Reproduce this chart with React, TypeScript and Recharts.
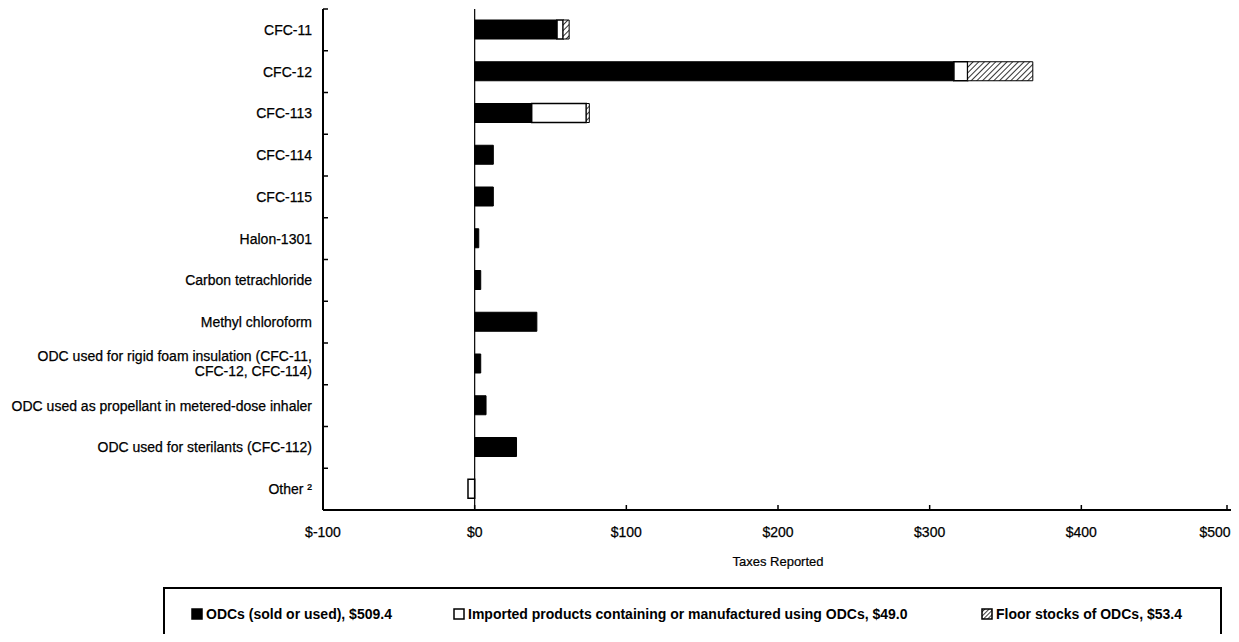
import React from 'react';
import {
  BarChart,
  Bar,
  XAxis,
  YAxis,
  Legend,
  ReferenceLine,
} from 'recharts';

// values in $ millions
const categories = [
  'CFC-11',
  'CFC-12',
  'CFC-113',
  'CFC-114',
  'CFC-115',
  'Halon-1301',
  'Carbon tetrachloride',
  'Methyl chloroform',
  'ODC used for rigid foam insulation (CFC-11,|CFC-12, CFC-114)',
  'ODC used as propellant in metered-dose inhaler',
  'ODC used for sterilants (CFC-112)',
  'Other ²',
];
const odcSold = [54.3, 316, 37.6, 12.3, 12.3, 2.7, 4, 41, 4, 7.5, 27.6, 0];
const importedProducts = [4, 9, 36, 0, 0, 0, 0, 0, 0, 0, 0, -4.4];
const floorStocks = [4, 43, 2, 0, 0, 0, 0, 0, 0, 0, 0, 0];

const xTicks = [-100, 0, 100, 200, 300, 400, 500];

const legendItems = [
  { label: 'ODCs (sold or used), $509.4', kind: 'solid' },
  { label: 'Imported products containing or manufactured using ODCs, $49.0', kind: 'white' },
  { label: 'Floor stocks of ODCs, $53.4', kind: 'hatch' },
];

const FONT = '"Liberation Sans", Arial, sans-serif';
const CHART_W = 1231;
const X_MARGIN = 17;
const Y_MARGIN = 11;

const data = categories.map((name, i) => ({
  name,
  odc: odcSold[i],
  imported: importedProducts[i],
  floor: floorStocks[i],
}));

const money = (v: number) => (v < 0 ? `$-${Math.abs(v)}` : `$${v}`);

function CategoryTick(props: any) {
  const { x, y, payload } = props;
  const lines = String(payload.value).split('|');
  const lh = 15;
  const start = -((lines.length - 1) * lh) / 2;
  const half = payload.offset || 20.9;
  const axisX = x + Y_MARGIN;
  return (
    <g>
      {/* mark at the upper edge of the band, pointing into the plot */}
      <line x1={axisX} x2={axisX + 5} y1={y - half} y2={y - half} stroke="#000" strokeWidth={1.5} />
      <text
        x={x}
        y={y}
        textAnchor="end"
        fontSize={14}
        fontFamily={FONT}
        fill="#000"
        stroke="#000"
        strokeWidth={0.25}
      >
        {lines.map((l, k) => (
          <tspan key={k} x={x} dy={k === 0 ? start + 5 : lh}>
            {l}
          </tspan>
        ))}
      </text>
    </g>
  );
}

function MoneyTick(props: any) {
  const { x, y, payload } = props;
  const axisY = y - X_MARGIN;
  // keep the last label on the page, as in the print
  const cx = Math.min(x, CHART_W - 24);
  return (
    <g>
      <line x1={x} x2={x} y1={axisY} y2={axisY - 5} stroke="#000" strokeWidth={1.5} />
      <text
        x={cx}
        y={y}
        dy="0.71em"
        textAnchor="middle"
        fontSize={14}
        fontFamily={FONT}
        fill="#000"
        stroke="#000"
        strokeWidth={0.25}
      >
        {money(payload.value)}
      </text>
    </g>
  );
}

function Swatch({ kind }: { kind: string }) {
  return (
    <svg width={12} height={12} style={{ marginRight: 3 }}>
      <defs>
        <pattern id="hatchSmall" patternUnits="userSpaceOnUse" width={3} height={3} patternTransform="rotate(45)">
          <line x1={0} y1={0} x2={0} y2={3} stroke="#000" strokeWidth={1.5} />
        </pattern>
      </defs>
      <rect
        x={1}
        y={1}
        width={10}
        height={10}
        fill={kind === 'solid' ? '#000' : kind === 'hatch' ? 'url(#hatchSmall)' : '#fff'}
        stroke="#000"
        strokeWidth={1.5}
      />
    </svg>
  );
}

function LegendBox() {
  return (
    <div
      style={{
        boxSizing: 'border-box',
        width: 1059,
        height: 70,
        border: '2px solid #000',
        fontFamily: FONT,
        fontSize: 14,
        fontWeight: 'bold',
        color: '#000',
      }}
    >
      {legendItems.map((it, i) => (
        <div
          key={it.label}
          style={{
            position: 'absolute',
            left: [28, 290, 818][i],
            top: 19,
            display: 'flex',
            alignItems: 'center',
            whiteSpace: 'nowrap',
          }}
        >
          <Swatch kind={it.kind} />
          {it.label}
        </div>
      ))}
    </div>
  );
}

export default function App() {
  return (
    <div style={{ width: CHART_W, height: 634, marginBottom: -8, overflow: 'hidden' }}>
      <BarChart
        width={CHART_W}
        height={634}
        data={data}
        layout="vertical"
        stackOffset="sign"
        margin={{ top: 1, right: 6, bottom: 72, left: 0 }}
        style={{ fontFamily: FONT }}
      >
        <defs>
          <pattern id="hatch" patternUnits="userSpaceOnUse" width={4} height={4} patternTransform="rotate(45)">
            <rect width={4} height={4} fill="#fff" />
            <line x1={0} y1={0} x2={0} y2={4} stroke="#000" strokeWidth={1.6} />
          </pattern>
        </defs>
        <XAxis
          type="number"
          domain={[-100, 500]}
          ticks={xTicks}
          allowDataOverflow
          height={60}
          tickLine={false}
          tickSize={0}
          tickMargin={X_MARGIN}
          stroke="#000"
          strokeWidth={2}
          tick={<MoneyTick />}
          label={{
            value: 'Taxes Reported',
            position: 'insideBottom',
            offset: 4,
            fill: '#000',
            stroke: '#000',
            strokeWidth: 0.2,
            fontSize: 13,
            fontFamily: FONT,
          }}
        />
        <YAxis
          type="category"
          dataKey="name"
          width={315}
          tickSize={0}
          tickLine={false}
          tickMargin={Y_MARGIN}
          interval={0}
          stroke="#000"
          strokeWidth={2}
          tick={<CategoryTick />}
        />
        <ReferenceLine x={0} stroke="#000" strokeWidth={1.2} />
        <Bar dataKey="odc" stackId="t" barSize={19} fill="#000" stroke="#000" strokeWidth={1} isAnimationActive={false} />
        <Bar dataKey="imported" stackId="t" barSize={19} fill="#fff" stroke="#000" strokeWidth={1.5} isAnimationActive={false} />
        <Bar dataKey="floor" stackId="t" barSize={19} fill="url(#hatch)" stroke="#000" strokeWidth={1} isAnimationActive={false} />
        <Legend
          verticalAlign="middle"
          layout="horizontal"
          wrapperStyle={{ position: 'absolute', left: 155, top: 579, width: 1059, height: 70 }}
          content={() => <LegendBox />}
        />
      </BarChart>
    </div>
  );
}
